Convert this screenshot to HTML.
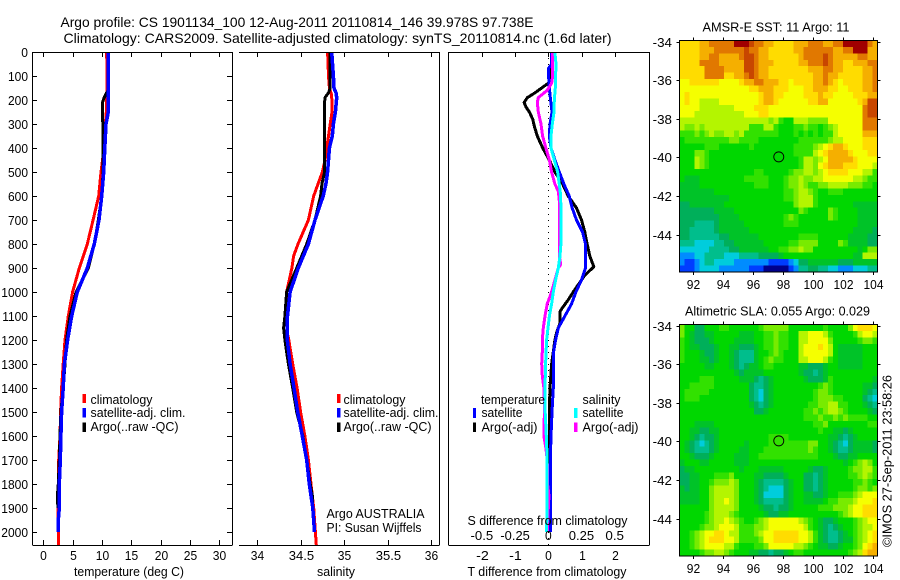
<!DOCTYPE html>
<html lang="en">
<head>
<meta charset="utf-8">
<title>Argo profile CS 1901134_100</title>
<style>
html,body{margin:0;padding:0;background:#fff;}
svg{display:block;font-family:"Liberation Sans",sans-serif;font-size:12px;fill:#000;}
text{fill:#000;}
</style>
</head>
<body>
<svg id="chart" xmlns="http://www.w3.org/2000/svg" width="900" height="580" viewBox="0 0 900 580">
  <rect x="0" y="0" width="900" height="580" fill="#fff"/>
  <text x="60.5" y="27" font-size="14" textLength="473">Argo profile: CS 1901134_100 12-Aug-2011 20110814_146 39.978S 97.738E</text>
  <text x="63.5" y="43" font-size="14" textLength="548">Climatology: CARS2009. Satellite-adjusted climatology: synTS_20110814.nc (1.6d later)</text>

  <g id="panel-t"></g>
  <g id="panel-s"></g>
  <g id="panel-d"></g>
  <g id="map-sst"></g>
  <g id="map-sla"></g>

  <g>
    <rect x="82.5" y="394" width="3.5" height="9" fill="#f00"/>
    <text x="90.5" y="404" textLength="62">climatology</text>
    <rect x="82.5" y="408" width="3.5" height="9.5" fill="#00f"/>
    <text x="90.5" y="417" textLength="95">satellite-adj. clim.</text>
    <rect x="82.5" y="422.5" width="3.5" height="9.5" fill="#000"/>
    <text x="90.5" y="431" textLength="88">Argo(..raw -QC)</text>
  </g>
  <g>
    <rect x="337" y="394" width="3.5" height="9" fill="#f00"/>
    <text x="343.5" y="404" textLength="62">climatology</text>
    <rect x="337" y="408" width="3.5" height="9.5" fill="#00f"/>
    <text x="343.5" y="417" textLength="95">satellite-adj. clim.</text>
    <rect x="337" y="422.5" width="3.5" height="9.5" fill="#000"/>
    <text x="343.5" y="431" textLength="88">Argo(..raw -QC)</text>
  </g>
  <g>
    <text x="326.5" y="518" textLength="98">Argo AUSTRALIA</text>
    <text x="326.5" y="532" textLength="95">PI: Susan Wijffels</text>
  </g>
  <g>
    <text x="481" y="404" textLength="64">temperature</text>
    <rect x="473" y="408" width="3" height="10" fill="#00f"/>
    <text x="481.5" y="417" textLength="41">satellite</text>
    <rect x="473" y="422.5" width="3" height="9.5" fill="#000"/>
    <text x="481.5" y="431.5" textLength="56">Argo(-adj)</text>
    <text x="582.5" y="404" textLength="38">salinity</text>
    <rect x="574" y="408" width="3.5" height="10" fill="#0ff"/>
    <text x="582.5" y="417" textLength="41">satellite</text>
    <rect x="574" y="422.5" width="3.5" height="9.5" fill="#f0f"/>
    <text x="582.5" y="431.5" textLength="56">Argo(-adj)</text>
  </g>
  <text x="467.5" y="525" textLength="160">S difference from climatology</text>
  <text x="74" y="576" textLength="110">temperature (deg C)</text>
  <text x="317" y="576" textLength="38">salinity</text>
  <text x="467.5" y="576" textLength="159">T difference from climatology</text>
  <text x="702.5" y="31.5" textLength="147">AMSR-E SST: 11 Argo: 11</text>
  <text x="685" y="315.5" textLength="185">Altimetric SLA: 0.055 Argo: 0.029</text>
  <text transform="translate(891.5,547) rotate(-90)" textLength="172">©IMOS 27-Sep-2011 23:58:26</text>
</svg>
<script>
// ---- temperature panel data ----
const climTempDepth = [0,100,250,300,400,500,600,700,800,900,1000,1100,1200,1300,1400,1500,1600,1700,1800,1900,2000,2055];
const climTemp = [10.8,10.9,10.75,10.6,10.35,9.85,9.45,8.5,7.5,6.15,5.0,4.27,3.7,3.4,3.13,2.96,2.85,2.62,2.62,2.5,2.56,2.56];
const satTempDepth = [0,250,300,400,500,600,700,800,900,1000,1100,1200,1300,1400,1500,1600,1700,1800,1900,1950,2000];
const satTemp = [11.1,11.1,10.7,10.5,10.3,9.96,9.5,8.7,7.5,5.8,4.84,4.15,3.6,3.4,3.13,3.0,2.9,2.73,2.73,2.56,2.56];
const argoTempDepth = [0,160,170,190,210,400,500,600,700,800,900,1000,1100,1200,1300,1400,1500,1600,1700,1800,1850,1900];
const argoTemp = [11.1,11.1,10.8,10.4,10.1,10.2,10.2,9.96,9.4,8.7,7.7,5.6,4.55,3.98,3.7,3.4,3.0,2.85,2.73,2.56,2.4,2.5];

// ---- salinity panel data ----
const climSalDepth = [0,100,150,180,250,300,350,400,450,500,550,600,700,800,850,900,1000,1100,1170,1200,1300,1400,1500,1600,1700,1800,1900,2000,2055];
const climSal = [34.81,34.82,34.83,34.857,34.86,34.84,34.82,34.80,34.78,34.75,34.70,34.65,34.59,34.47,34.42,34.40,34.34,34.33,34.348,34.365,34.41,34.46,34.50,34.55,34.59,34.62,34.65,34.67,34.68];
const satSalDepth = [0,100,150,170,190,250,300,350,400,500,550,600,700,800,900,1000,1100,1200,1300,1400,1500,1600,1700,1800,1900,2000];
const satSal = [34.857,34.876,34.883,34.906,34.914,34.899,34.876,34.864,34.83,34.81,34.79,34.76,34.665,34.59,34.474,34.38,34.35,34.348,34.38,34.424,34.467,34.52,34.57,34.60,34.64,34.66];
const argoSalDepth = [0,150,170,190,210,500,550,600,700,800,900,1000,1100,1150,1200,1300,1400,1500,1600,1700,1800,1850,1900];
const argoSal = [34.84,34.84,34.82,34.78,34.775,34.775,34.745,34.73,34.665,34.57,34.455,34.34,34.32,34.305,34.32,34.36,34.41,34.455,34.525,34.57,34.61,34.635,34.64];

// ---- difference panel data (T in deg C, S in salinity units) ----
const satDiffTDepth = [0,50,70,100,150,200,250,300,350,400,450,500,550,600,650,700,750,800,850,900,950,1000,1050,1100,1150,1200,1250,1300,1400,1500,1600,1700,1800,1900,2000];
const satDiffT = [0.10,0.10,0.0,0.01,0.03,0.07,0.11,0.05,0.03,0.08,0.20,0.33,0.47,0.63,0.72,0.85,1.03,1.12,1.12,1.12,1.0,0.83,0.7,0.5,0.3,0.22,0.16,0.15,0.15,0.11,0.08,0.06,0.06,0.06,0.06];
const argoDiffTDepth = [0,100,130,170,190,210,230,250,280,310,350,400,450,500,550,600,650,700,750,800,850,895,930,1000,1033,1067,1083,1130,1170,1200,1250,1300,1400,1500,1600,1700,1800,2000];
const argoDiffT = [0.10,0.10,0.0,-0.40,-0.63,-0.73,-0.67,-0.57,-0.47,-0.42,-0.33,-0.17,0.03,0.20,0.43,0.60,0.85,1.0,1.10,1.17,1.25,1.37,1.10,0.75,0.60,0.42,0.35,0.35,0.25,0.20,0.15,0.10,0.05,0.03,0.03,0.01,0.01,0.01];
const argoDiffSDepth = [0,100,130,160,190,210,250,300,350,400,450,500,550,580,620,700,800,850,885,900,950,1000,1050,1100,1150,1200,1250,1300,1350,1400,1500,1550,1600,1650,1700,1800,1850,1900,2000];
const argoDiffS = [0.033,0.033,0.025,-0.008,-0.075,-0.083,-0.075,-0.055,-0.043,-0.018,0.008,0.025,0.05,0.075,0.083,0.083,0.083,0.083,0.093,0.075,0.05,0.025,-0.008,-0.025,-0.038,-0.045,-0.045,-0.05,-0.045,-0.033,-0.028,-0.033,-0.033,-0.018,-0.008,-0.005,0.005,0.0,-0.008];
const satDiffSDepth = [0,50,100,150,200,250,300,350,400,450,500,550,600,700,800,850,900,950,1000,1050,1100,1200,1300,1400,1500,1600,1700,1800,1900,2000];
const satDiffS = [0.05,0.058,0.055,0.053,0.045,0.043,0.03,0.02,0.02,0.045,0.07,0.083,0.093,0.095,0.095,0.088,0.075,0.055,0.038,0.025,0.008,-0.013,-0.02,-0.025,-0.023,-0.015,-0.008,-0.008,-0.01,-0.013];

// ---- tick labels ----
const depthTicks = [0,100,200,300,400,500,600,700,800,900,1000,1100,1200,1300,1400,1500,1600,1700,1800,1900,2000];
const tempTicks = [0,5,10,15,20,25,30];
const salTicks = ["34","34.5","35","35.5","36"];
const diffTTicks = [-2,-1,0,1,2];
const diffSTickLabels = ["-0.5","-0.25","0","0.25","0.5"];
const diffSTicks = [-0.5,-0.25,0,0.25,0.5];
const lonTicks = [92,94,96,98,100,102,104];
const latTicks = [-34,-36,-38,-40,-42,-44];
const profileLon = 97.738;
const profileLat = -39.978;

// ---- map colour levels: one base-17 digit (0-g) per grid cell, 40 columns by 36 rows ----
const sstLevels = [
"ccccddeeee" + "egggfeeddc" + "cccdddeeed" + "deeggggged",
"ccccdddeee" + "eeefeeddcc" + "cccddeeeee" + "eddeegggdd",
"ccccddeedd" + "ddeffeddcc" + "ccccdeeeef" + "edddddeedd",
"cccceeeedd" + "dddffedddc" + "ccccddeeef" + "eddccdddee",
"ccccceeeed" + "dddffeddcc" + "ccccccddde" + "eddccccdde",
"ccccceeeec" + "cddefeddcc" + "cccccccdde" + "ddcccccdde",
"bbccccccbb" + "bbcddeeddd" + "ccbccccdde" + "dcbccccdde",
"bbbbbbbbbb" + "bbbbccdddc" + "ccbbbccddd" + "ccbbcccdde",
"bcbbbbbbbb" + "bbbbbbcddc" + "cbbbbcccdc" + "cbbbbcccdd",
"bcbbaaaabb" + "bbbbbbcddc" + "bbbbbbccdd" + "bbbbbbcdff",
"bbbbaaaaaa" + "abbbbcccbb" + "bbbbbbbbbb" + "bbbbbbbeff",
"bbbaaaaaaa" + "aaabbbccbb" + "bbbbbbbbbb" + "bbbbbbbeff",
"aaaaaaaaaa" + "aaaaaaaa9a" + "877aaa9999" + "bbbbbbbeee",
"a99a9aaaaa" + "aaaa888aa8" + "7778898878" + "9abbbbbeee",
"888989a99a" + "a9a8888888" + "7778787878" + "8abbbbbddd",
"7888888888" + "9988887777" + "7777888888" + "9aabbbbccc",
"7777788877" + "7777877777" + "77788889ab" + "cddcbbbccc",
"7779987777" + "7777777777" + "7778888abc" + "ddddcbbbcc",
"777a987777" + "7777777777" + "77778aa9ab" + "dddddcbbbb",
"777a987777" + "7777777777" + "77778aa9bc" + "dddcccbbba",
"7777777777" + "7777788777" + "77899aa9ab" + "ccccbbbaa8",
"7666777777" + "7778888877" + "7899a99aab" + "bbbbbaa988",
"6666777777" + "7777788877" + "7899a98899" + "aaaa999887",
"6666666777" + "7777777777" + "7889aa9877" + "8887777777",
"6666666666" + "7777777777" + "7889aaa877" + "7777777777",
"5566666667" + "7777777777" + "7779aaa877" + "7777766666",
"5555555666" + "6777777777" + "7777987777" + "9877776666",
"5555555566" + "6677777777" + "7898777777" + "9877776666",
"5554444566" + "6667777777" + "7888777777" + "7777776666",
"5544444566" + "6666777777" + "7777777777" + "7777766665",
"5544444455" + "6666667777" + "7777888877" + "7777666655",
"4443333445" + "5666666777" + "7788999977" + "7798666655",
"3333334444" + "5566666677" + "8899a99777" + "7777776799",
"2223344443" + "3344445555" + "6777777777" + "7777766aaa",
"2112344333" + "3222222211" + "1123556666" + "6655566666",
"1112333322" + "2222111000" + "0012445544" + "3322233344"
];
const slaLevels = [
"9775577788" + "7777778999" + "9977777778" + "77779bcccb",
"9765566777" + "7766677889" + "8877aabbba" + "877778abba",
"8765556777" + "7666677889" + "8877aabbbb" + "9777778998",
"8766555677" + "6655567889" + "8877abbbcb" + "a766666777",
"8777655677" + "6544467789" + "8777abbbbb" + "a766666777",
"8777665677" + "6544467898" + "8777aabbba" + "8766666777",
"7777766777" + "6545667887" + "7777665556" + "7766666777",
"7777777777" + "7656666777" + "7777655456" + "7777777777",
"7777888777" + "7766654567" + "7777765556" + "8777777776",
"7788888777" + "7777544567" + "7777777789" + "8777777665",
"7888887777" + "7777543567" + "7777777899" + "8777777654",
"7888777777" + "7777543567" + "7777777899" + "9887777543",
"7777777777" + "7777654567" + "7777778899" + "aa88777654",
"7777777777" + "7777755677" + "7777788989" + "aa98777765",
"7777777777" + "7777777777" + "7777788898" + "8989888877",
"7776666777" + "7777777777" + "7777777889" + "7777777788",
"7766556677" + "7777777777" + "7777777787" + "7665677777",
"7765455677" + "7777777788" + "8877777777" + "6654567777",
"7654345677" + "7776777788" + "8888889977" + "6543566665",
"7654445677" + "7766777888" + "8888889877" + "6544566665",
"7765556777" + "7666778888" + "8888888877" + "7655667777",
"6777667777" + "7666777777" + "7777777777" + "7776789a97",
"5667777777" + "7767776666" + "6777776556" + "7777899aa8",
"5566777888" + "9777766555" + "5677755456" + "7777889a98",
"5566778999" + "a977765444" + "4567755456" + "7777788987",
"6566779aaa" + "a977765433" + "3567755456" + "7777789989",
"6666779aaa" + "a977765333" + "3567766556" + "778889abbb",
"6666779aab" + "a977765444" + "4567766667" + "88999abbbc",
"7777779aaa" + "a977776554" + "5567777788" + "8999abbccc",
"7777789aaa" + "9877777655" + "6677777777" + "7789abbccc",
"7777789aab" + "a987789abb" + "bbbba98765" + "5677789abb",
"7777899abb" + "ba88899abb" + "bbbbba8765" + "4567789aab",
"7789abbccb" + "aa8889abbc" + "ccccbba865" + "4456789abc",
"7789abcccb" + "ba88889bbc" + "ccccbba865" + "4456689abc",
"7789abbbba" + "a8777889bb" + "bbbaa98766" + "5567789bcd",
"7777899aa9" + "8777665545" + "5678877777" + "777789acdd"
];
const levelColors = ["#00008c","#003cff","#008cff","#00cddc","#00be8c","#00af5a","#00c328","#00d700","#32e100","#78eb00","#b4f500","#f5ff00","#ffdc00","#f5af00","#e17800","#c84600","#a00000"];

const NS = "http://www.w3.org/2000/svg";
function make(parent, tag, props) {
  const el = document.createElementNS(NS, tag);
  for (const k in props) el.setAttribute(k, props[k]);
  parent.appendChild(el);
  return el;
}

// ---- axis functions ----
const yDepth = d => 52 + 0.24 * d;
const xTemp = t => 43.3 + 5.86 * t;
const xSal = s => 257 + 87.17 * (s - 34);
const xDiffT = t => 548.3 + 33.2 * t;
const xDiffS = s => 548.3 + 132.8 * s;
const xLon = lon => 692.7 + 15 * (lon - 92);

function drawLine(g, name, xs, ds, xFn, color, w) {
  const pts = xs.map((v, i) => xFn(v).toFixed(1) + "," + yDepth(ds[i]).toFixed(1)).join(" ");
  const el = make(g, "polyline", {points: pts, fill: "none", stroke: color, "stroke-width": w, "stroke-linejoin": "round", "shape-rendering": "crispEdges"});
  
  
}
function drawSeg(g, name, x1, y1, x2, y2, w) {
  const el = make(g, "line", {x1: x1, y1: y1, x2: x2, y2: y2, stroke: "#000", "stroke-width": w || 1, "shape-rendering": "crispEdges"});
  
  
}
function drawLabel(g, name, x, y, str, anchor) {
  const el = make(g, "text", {x: x, y: y, "text-anchor": anchor || "middle"});
  el.textContent = str;
  
  
  const extra = /[-.]/.test(str) ? 2 : 0;
  el.setAttribute('textLength', (el.getComputedTextLength() + extra).toFixed(1));
}

// ---- temperature panel ----
const gT = document.getElementById("panel-t");
drawLine(gT, "climatology-temperature-line", climTemp, climTempDepth, xTemp, "#f00", 3);
drawLine(gT, "argo-temperature-line", argoTemp, argoTempDepth, xTemp, "#000", 3);
drawLine(gT, "satellite-temperature-line", satTemp, satTempDepth, xTemp, "#00f", 3.5);
drawSeg(gT, "left-axis", 32.5, 52, 32.5, 545);
drawSeg(gT, "right-axis", 232.5, 52, 232.5, 545);
drawSeg(gT, "top-axis", 32.5, 52.5, 232.5, 52.5);
drawSeg(gT, "bottom-axis", 32.5, 545.5, 232.5, 545.5);
depthTicks.forEach(d => {
  const y = Math.round(yDepth(d)) + 0.5;
  drawSeg(gT, "depth-tick-left", 33, y, 37, y);
  drawSeg(gT, "depth-tick-right", 227, y, 232, y);
  drawLabel(gT, "depth-tick-label", 28, y + 4.5, String(d), "end");
});
tempTicks.forEach(t => {
  const x = Math.round(xTemp(t)) + 0.5;
  drawSeg(gT, "temperature-tick-top", x, 52, x, 57);
  drawSeg(gT, "temperature-tick-bottom", x, 540, x, 545);
  drawLabel(gT, "temperature-tick-label", x, 560, String(t));
});

// ---- salinity panel ----
const gS = document.getElementById("panel-s");
drawLine(gS, "climatology-salinity-line", climSal, climSalDepth, xSal, "#f00", 3);
drawLine(gS, "argo-salinity-line", argoSal, argoSalDepth, xSal, "#000", 3);
drawLine(gS, "satellite-salinity-line", satSal, satSalDepth, xSal, "#00f", 3.5);
drawSeg(gS, "right-axis", 439.5, 52, 439.5, 545);
drawSeg(gS, "top-axis", 239, 52.5, 439.5, 52.5);
drawSeg(gS, "bottom-axis", 239, 545.5, 439.5, 545.5);
salTicks.forEach(label => {
  const x = Math.round(xSal(parseFloat(label))) + 0.5;
  drawSeg(gS, "salinity-tick-top", x, 52, x, 57);
  drawSeg(gS, "salinity-tick-bottom", x, 540, x, 545);
  drawLabel(gS, "salinity-tick-label", x, 560, label);
});

// ---- difference panel ----
const gD = document.getElementById("panel-d");
const zero = make(gD, "line", {x1: xDiffT(0), y1: 52, x2: xDiffT(0), y2: 545, stroke: "#000", "stroke-width": 1, "stroke-dasharray": "1 5", "shape-rendering": "crispEdges"});


drawLine(gD, "argo-temperature-difference-line", argoDiffT, argoDiffTDepth, xDiffT, "#000", 3);
drawLine(gD, "satellite-temperature-difference-line", satDiffT, satDiffTDepth, xDiffT, "#00f", 3);
drawLine(gD, "argo-salinity-difference-line", argoDiffS, argoDiffSDepth, xDiffS, "#f0f", 3);
drawLine(gD, "satellite-salinity-difference-line", satDiffS, satDiffSDepth, xDiffS, "#0ff", 3);
drawSeg(gD, "left-axis", 448.5, 52, 448.5, 545);
drawSeg(gD, "right-axis", 649.5, 52, 649.5, 545);
drawSeg(gD, "top-axis", 448.5, 52.5, 649.5, 52.5);
drawSeg(gD, "bottom-axis", 448.5, 545.5, 649.5, 545.5);
diffTTicks.forEach(t => {
  const x = Math.round(xDiffT(t)) + 0.5;
  drawSeg(gD, "t-difference-tick-top", x, 52, x, 57);
  drawLabel(gD, "t-difference-tick-label", x, 560, t < 0 ? "-" + Math.abs(t) : String(t));
});
diffSTicks.forEach((s, i) => {
  drawLabel(gD, "s-difference-tick-label", xDiffS(s), 540, diffSTickLabels[i]);
});

// ---- maps ----
function drawMap(id, levels, top, bottom, lat34, prefix) {
  const g = document.getElementById(id);
  const left = 679.5, right = 877.5;
  const yLat = lat => lat34 + 19.3 * (-34 - lat);
  const cw = (right - left) / 40, ch = (bottom - top) / 36;
  levels.forEach((row, r) => {
    for (let c = 0; c < 40; c++) {
      const cell = make(g, "rect", {x: (left + c * cw).toFixed(2), y: (top + r * ch).toFixed(2), width: (cw + 0.4).toFixed(2), height: (ch + 0.4).toFixed(2), fill: levelColors[parseInt(row[c], 17)], "shape-rendering": "crispEdges"});
      
      
    }
  });
  const frame = make(g, "rect", {x: left, y: top, width: right - left, height: bottom - top, fill: "none", stroke: "#000", "stroke-width": 1, "shape-rendering": "crispEdges"});
  
  
  lonTicks.forEach(lon => {
    const x = Math.round(xLon(lon)) + 0.5;
    drawSeg(g, prefix + "-lon-tick-top", x, top - 3, x, top);
    drawSeg(g, prefix + "-lon-tick-bottom", x, bottom, x, bottom + 3);
    drawLabel(g, prefix + "-lon-label", x, bottom + 17, String(lon));
  });
  latTicks.forEach(lat => {
    const y = Math.round(yLat(lat)) + 0.5;
    drawSeg(g, prefix + "-lat-tick-left", left - 3, y, left, y);
    drawSeg(g, prefix + "-lat-tick-right", right, y, right + 3, y);
    drawLabel(g, prefix + "-lat-label", 672, y + 4.5, "-" + Math.abs(lat), "end");
  });
  const marker = make(g, "circle", {cx: xLon(profileLon), cy: yLat(profileLat), r: 5, fill: "none", stroke: "#000", "stroke-width": 0.9});
  
  
}
drawMap("map-sst", sstLevels, 40.5, 272, 41.5, "sst");
drawMap("map-sla", slaLevels, 324.5, 556, 325.5, "sla");

// ---- tall, narrow label glyphs like the bitmap font of the original ----
document.querySelectorAll('svg text[textLength]').forEach(t => {
  if (!t.hasAttribute('font-size')) t.setAttribute('font-size', '13');
  t.setAttribute('lengthAdjust', 'spacingAndGlyphs');
});
</script>
</body>
</html>
